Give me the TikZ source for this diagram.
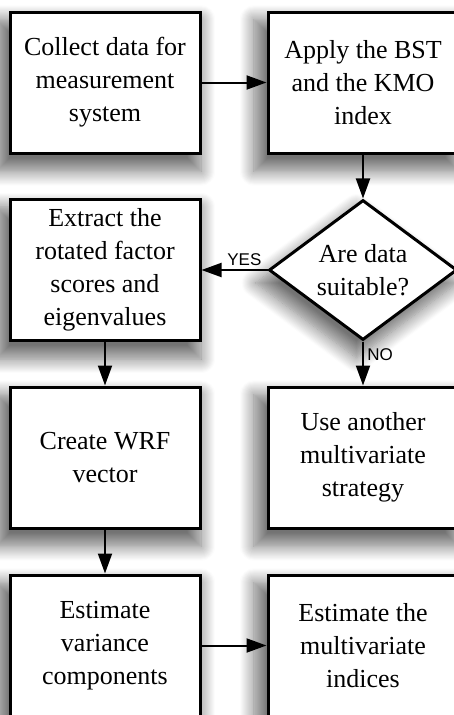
\documentclass[tikz,border=0pt]{standalone}
\usepackage{fontspec}
\setmainfont{Liberation Serif}
\newfontfamily\answerfont{Liberation Sans}
\usetikzlibrary{shapes.geometric,arrows.meta,shadows.blur}
\tikzset{
    boxshadow/.style={blur shadow={shadow xshift=-6pt, shadow yshift=-12pt, shadow scale=1.08, shadow blur radius=13pt, shadow blur steps=14, shadow opacity=55}},
    stepbox/.style={draw, line width=3pt, fill=white, minimum width=190pt, minimum height=141pt,
        align=center, inner sep=0pt, font=\fontsize{26}{33}\selectfont, boxshadow},
    decision/.style={diamond, draw, line width=3pt, fill=white, aspect=1.34, inner sep=0pt,
        minimum width=188pt, minimum height=140pt, align=center, font=\fontsize{26}{33}\selectfont, boxshadow},
    flow/.style={line width=2pt, -{Triangle[length=20pt,width=14pt]}},
    answer/.style={font=\answerfont\fontsize{17}{17}\selectfont}
}
\begin{document}
\begin{tikzpicture}[x=1pt, y=-1pt]
        \useasboundingbox (0,0) rectangle (454,715);
        \node[stepbox] (collect) at (105,82.5) {Collect data for\\measurement\\system};
        \node[stepbox] (apply) at (363,82.5) {Apply the BST\\and the KMO\\index};
        \node[decision] (suitable) at (363,270) {Are data\\suitable?};
        \node[stepbox] (extract) at (105,270) {Extract the\\rotated factor\\scores and\\eigenvalues};
        \node[stepbox] (wrf) at (105,457.5) {Create WRF\\vector};
        \node[stepbox] (another) at (363,457.5) {Use another\\multivariate\\strategy};
        \node[stepbox] (variance) at (105,645.5) {Estimate\\variance\\components};
        \node[stepbox] (indices) at (363,645.5) {Estimate the\\multivariate\\indices};
        \draw[flow] (collect) -- (apply);
        \draw[flow] (apply) -- (suitable);
        \draw[flow] (suitable.west) -- node[answer, above, pos=0.35]{YES} (extract.east);
        \draw[flow] (suitable.south) -- node[answer, right, pos=0.3]{NO} (another.north);
        \draw[flow] (extract) -- (wrf);
        \draw[flow] (wrf) -- (variance);
        \draw[flow] (variance) -- (indices);
    \end{tikzpicture}
\end{document}
